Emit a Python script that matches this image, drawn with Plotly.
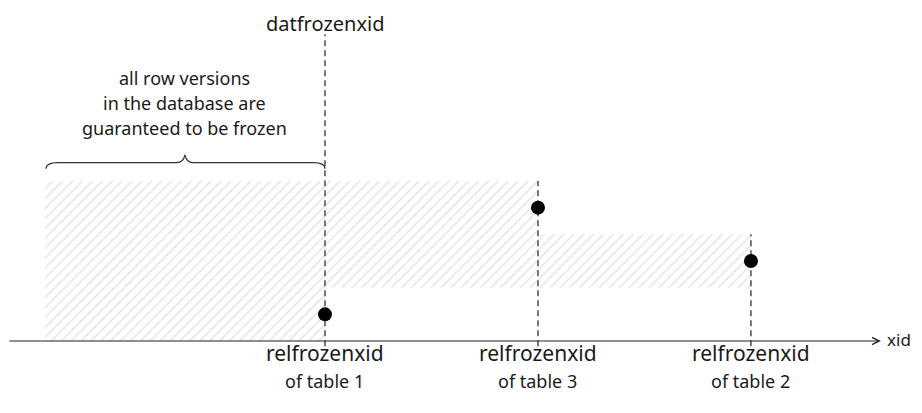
import plotly.graph_objects as go

# ---- data ----
tables = ["table 1", "table 3", "table 2"]
relfrozenxid = [1.0, 2.0, 3.0]          # position of each table's relfrozenxid on the xid axis
band_center = [0.5, 2.5, 1.5]            # row band of each table
oldest_xid = -0.315                      # left edge of the frozen region
datfrozenxid = min(relfrozenxid)
brace_text = ["all row versions", "in the database are", "guaranteed to be frozen"]

FONT = "Noto Sans, sans-serif"
TXT = "#1a1a1a"

# page has an 8px body margin -> figure sits at (8, 8)
W, H = 914, 405
X0, X1 = -0.4883, 3.803
Y0, Y1 = -1.35, 6.244
PXX = W / (X1 - X0)
PXY = H / (Y1 - Y0)

fig = go.Figure()

# hatched frozen bands
fig.add_trace(go.Bar(
    orientation="h",
    y=band_center,
    base=[oldest_xid] * len(relfrozenxid),
    x=[r - oldest_xid for r in relfrozenxid],
    width=1.0,
    marker=dict(color="white", line=dict(width=0),
                pattern=dict(shape="/", size=7, solidity=0.2, fgcolor="#c6c6c6", bgcolor="white")),
    hoverinfo="skip",
))

# dashed vertical guides
for r, c in zip(relfrozenxid, band_center):
    top = 5.75 if r == datfrozenxid else c + 0.5
    fig.add_trace(go.Scatter(x=[r, r], y=[-0.1, top], mode="lines",
                             line=dict(color="#222", width=1.2, dash="6px,4px"),
                             hoverinfo="skip"))

# dots
fig.add_trace(go.Scatter(x=relfrozenxid, y=band_center, mode="markers",
                         marker=dict(size=14, color="black"), hoverinfo="skip"))

# xid axis with open arrow
fig.add_annotation(x=3.61, y=0, ax=X0, ay=0, axref="x", ayref="y", xref="x", yref="y",
                   showarrow=True, arrowhead=5, arrowsize=1.3, arrowwidth=1.1,
                   arrowcolor="#222", text="")
fig.add_annotation(x=3.628, y=0.02, xref="x", yref="y", text="xid", showarrow=False,
                   xanchor="left", yanchor="middle", font=dict(family=FONT, size=17, color=TXT))

# bottom labels
for r, t in zip(relfrozenxid, tables):
    fig.add_annotation(x=r, y=-0.225, text="relfrozenxid", showarrow=False,
                       xanchor="center", yanchor="middle", font=dict(family=FONT, size=21, color=TXT))
    fig.add_annotation(x=r, y=-0.75, text="of " + t, showarrow=False,
                       xanchor="center", yanchor="middle", font=dict(family=FONT, size=18, color=TXT))

# datfrozenxid label
fig.add_annotation(x=datfrozenxid, y=Y1, text="datfrozenxid", showarrow=False,
                   xanchor="center", yanchor="top", font=dict(family=FONT, size=20, color=TXT))

# brace text
mid = (oldest_xid + datfrozenxid) / 2
for i, line in enumerate(brace_text):
    fig.add_annotation(x=mid, y=4.93 - i * 0.47, text=line, showarrow=False,
                       xanchor="center", yanchor="middle", font=dict(family=FONT, size=18, color=TXT))

# curly brace
ya = 3.23           # ends
yb = 3.345          # flat
yt = 3.49           # tip
dx = 12 / PXX
dt = 8 / PXX
L, R = oldest_xid + 0.005, datfrozenxid
path = (f"M {L},{ya} Q {L},{yb} {L+dx},{yb} L {mid-dt},{yb} "
        f"Q {mid-dt*0.2},{yb} {mid},{yt} Q {mid+dt*0.2},{yb} {mid+dt},{yb} "
        f"L {R-dx},{yb} Q {R},{yb} {R},{ya}")
fig.add_shape(type="path", path=path, xref="x", yref="y",
              line=dict(color="#333", width=1.2))

fig.update_layout(
    width=W, height=H,
    margin=dict(l=0, r=0, t=0, b=0),
    paper_bgcolor="white", plot_bgcolor="white",
    showlegend=False,
    xaxis=dict(range=[X0, X1], visible=False, fixedrange=True),
    yaxis=dict(range=[Y0, Y1], visible=False, fixedrange=True),
)

fig.write_html("out.html")
